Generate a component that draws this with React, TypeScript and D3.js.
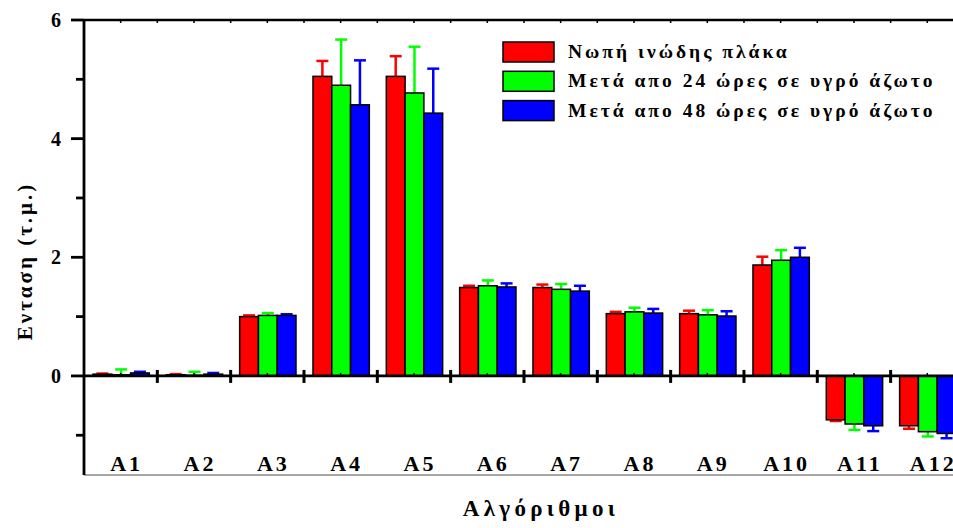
import React from 'react';
import * as d3 from 'd3';

const categories = ['A1', 'A2', 'A3', 'A4', 'A5', 'A6', 'A7', 'A8', 'A9', 'A10', 'A11', 'A12'];
const seriesNames = [
  'Νωπή ινώδης πλάκα',
  'Μετά απο 24 ώρες σε υγρό άζωτο',
  'Μετά απο 48 ώρες σε υγρό άζωτο',
];
const seriesColors = ['#ff0000', '#00ff00', '#0000ff'];

const freshValues = [0.03, 0.02, 1.0, 5.05, 5.05, 1.49, 1.49, 1.05, 1.05, 1.87, -0.74, -0.84];
const freshErrors = [0.01, 0.01, 0.02, 0.26, 0.34, 0.03, 0.05, 0.03, 0.05, 0.14, 0.02, 0.05];
const h24Values = [0.02, 0.01, 1.02, 4.9, 4.77, 1.52, 1.46, 1.08, 1.03, 1.95, -0.81, -0.94];
const h24Errors = [0.09, 0.06, 0.04, 0.77, 0.78, 0.09, 0.09, 0.07, 0.08, 0.17, 0.1, 0.08];
const h48Values = [0.05, 0.03, 1.02, 4.57, 4.43, 1.5, 1.43, 1.06, 1.01, 2.0, -0.84, -0.97];
const h48Errors = [0.02, 0.02, 0.02, 0.75, 0.75, 0.06, 0.09, 0.07, 0.08, 0.16, 0.09, 0.08];

const yMajor = [0, 2, 4, 6];
const yMinor = [-1, 1, 3, 5];

const FONT = '"Liberation Serif", "Times New Roman", serif';

const App = () => {
  const left = 84;
  const top = 20;
  const bottom = 475;
  const catW = 73.33;
  const right = left + catW * categories.length;

  const x = d3.scaleBand<string>().domain(categories).range([left, right]).paddingInner(0).paddingOuter(0);
  const inner = d3.scaleBand<number>().domain([0, 1, 2]).range([9, x.bandwidth() - 8]).padding(0);
  const y = d3.scaleLinear().domain([-1.67, 6]).range([bottom, top]);

  const series = [
    { values: freshValues, errors: freshErrors },
    { values: h24Values, errors: h24Errors },
    { values: h48Values, errors: h48Errors },
  ];

  const halfTicks = d3.range(0, categories.length * 2 + 1).map(i => left + (i * x.bandwidth()) / 2);

  return (
    <svg width={953} height={528} style={{ position: 'absolute', left: 0, top: 0, background: '#fff' }}>
      {/* bars */}
      {series.map((s, si) =>
        categories.map((c, ci) => {
          const v = s.values[ci];
          const bx = (x(c) as number) + (inner(si) as number);
          const bw = inner.bandwidth();
          const y0 = y(0);
          const yv = y(v);
          const yErr = y(v + Math.sign(v) * s.errors[ci]);
          const cx = bx + bw / 2;
          return (
            <g key={`${si}-${ci}`}>
              <line x1={cx} x2={cx} y1={yv} y2={yErr} stroke={seriesColors[si]} strokeWidth={2.5} />
              <line x1={cx - 6} x2={cx + 6} y1={yErr} y2={yErr} stroke={seriesColors[si]} strokeWidth={2.5} />
              <rect
                x={bx}
                y={Math.min(y0, yv)}
                width={bw}
                height={Math.abs(yv - y0)}
                fill={seriesColors[si]}
                stroke="#000"
                strokeWidth={1.5}
              />
            </g>
          );
        })
      )}

      {/* frame */}
      <line x1={left} x2={953} y1={top} y2={top} stroke="#000" strokeWidth={2.5} />
      {halfTicks.map((t, i) => (
        <line key={`tt${i}`} x1={t} x2={t} y1={top} y2={top + 3} stroke="#000" strokeWidth={1.5} />
      ))}
      <line x1={left} x2={953} y1={bottom} y2={bottom} stroke="#888" strokeWidth={1.5} />
      <line x1={left} x2={left} y1={top - 1} y2={bottom} stroke="#000" strokeWidth={2.8} />

      {/* y axis ticks */}
      {yMajor.map(t => (
        <g key={`ym${t}`}>
          <line x1={left - 13} x2={left} y1={y(t)} y2={y(t)} stroke="#000" strokeWidth={2.8} />
          <text
            x={61}
            y={y(t) + 7}
            textAnchor="end"
            fontFamily={FONT}
            fontWeight="bold"
            fontSize={20}
          >
            {t}
          </text>
        </g>
      ))}
      {yMinor.map(t => (
        <line key={`yn${t}`} x1={left - 8} x2={left} y1={y(t)} y2={y(t)} stroke="#000" strokeWidth={2.8} />
      ))}

      {/* zero line with category ticks */}
      <line x1={left} x2={953} y1={y(0)} y2={y(0)} stroke="#000" strokeWidth={2.8} />
      {categories.map(c => (
        <g key={`xt${c}`}>
          <line
            x1={(x(c) as number) + x.bandwidth()}
            x2={(x(c) as number) + x.bandwidth()}
            y1={y(0) - 6}
            y2={y(0) + 7}
            stroke="#000"
            strokeWidth={3}
          />
          <line
            x1={(x(c) as number) + x.bandwidth() / 2}
            x2={(x(c) as number) + x.bandwidth() / 2}
            y1={y(0) - 3}
            y2={y(0)}
            stroke="#000"
            strokeWidth={1.5}
          />
          <text
            x={(x(c) as number) + x.bandwidth() / 2 + 6}
            y={471}
            textAnchor="middle"
            fontFamily={FONT}
            fontWeight="bold"
            fontSize={22}
            letterSpacing={3}
          >
            {c}
          </text>
        </g>
      ))}

      {/* axis titles */}
      <text
        transform="translate(32,261) rotate(-90)"
        textAnchor="middle"
        fontFamily={FONT}
        fontWeight="bold"
        fontSize={21}
        letterSpacing={3}
      >
        Ενταση (τ.μ.)
      </text>
      <text x={541} y={516} textAnchor="middle" fontFamily={FONT} fontWeight="bold" fontSize={23} letterSpacing={4.3}>
        Αλγόριθμοι
      </text>

      {/* legend */}
      {seriesNames.map((name, i) => (
        <g key={name} transform={`translate(503,${42 + i * 29.3})`}>
          <rect width={51} height={20} fill={seriesColors[i]} stroke="#000" strokeWidth={1.5} />
          <text x={65} y={16} fontFamily={FONT} fontWeight="bold" fontSize={19.5} letterSpacing={3}>
            {name}
          </text>
        </g>
      ))}
    </svg>
  );
};

export default App;
